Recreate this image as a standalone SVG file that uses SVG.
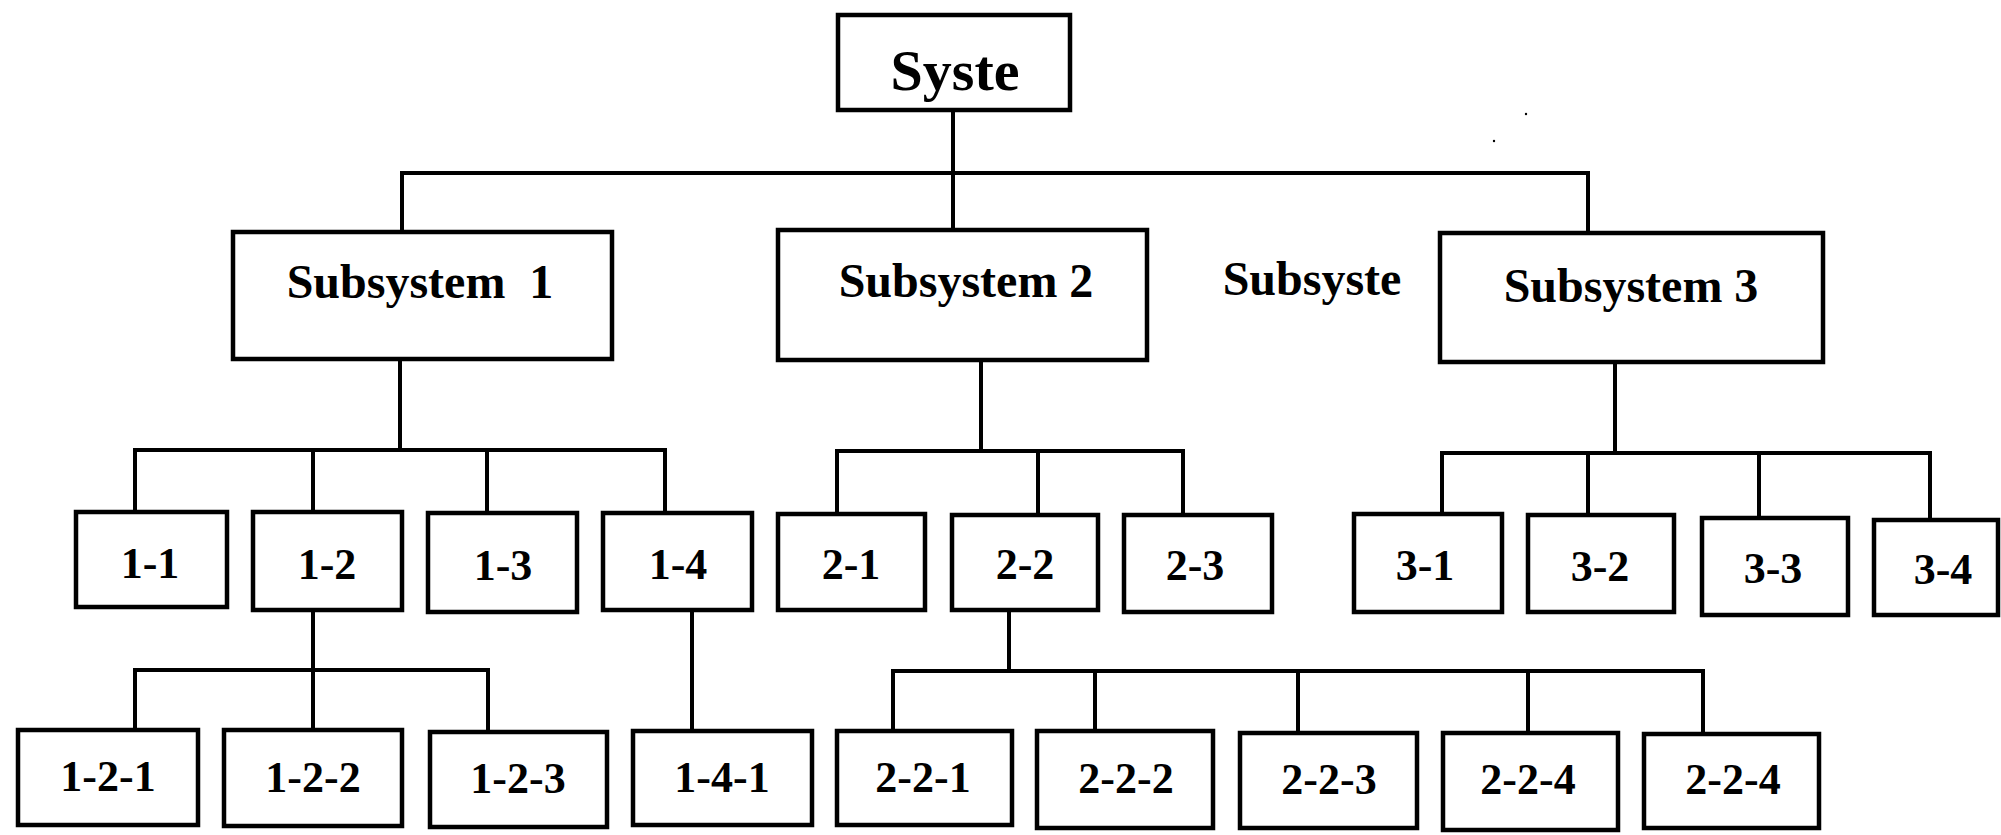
<svg xmlns="http://www.w3.org/2000/svg" width="2001" height="835" viewBox="0 0 2001 835">
<style>
.box{fill:#fff;stroke:#000;stroke-width:4.5}
.lbl{font-family:"Liberation Serif","Times New Roman",serif;font-weight:bold;fill:#000;text-anchor:middle}
.big{font-size:48px}
.top{font-size:58px}
.sm{font-size:44px}
.con{stroke:#000;stroke-width:4;fill:none;stroke-linecap:square}
</style>
<rect width="2001" height="835" fill="#fff"/>
<g id="connectors" class="con">
<path d="M953 110V230"/>
<path d="M402 232V173H1588V233"/>
<path d="M400 359V450"/>
<path d="M135 512V450H665V513"/>
<path d="M313 450V512"/>
<path d="M487 450V513"/>
<path d="M981 360V451"/>
<path d="M837 514V451H1183V515"/>
<path d="M1038 451V515"/>
<path d="M1615 362V453"/>
<path d="M1442 514V453H1930V520"/>
<path d="M1588 453V515"/>
<path d="M1759 453V518"/>
<path d="M313 610V670"/>
<path d="M135 730V670H488V732"/>
<path d="M313 670V730"/>
<path d="M692 610V731"/>
<path d="M1009 610V671"/>
<path d="M893 731V671H1703V734"/>
<path d="M1095 671V731"/>
<path d="M1298 671V733"/>
<path d="M1528 671V733"/>
</g>
<g id="n-syste"><rect class="box" x="838" y="15" width="232" height="95"/><text class="lbl top" x="955" y="90">Syste</text></g>
<g id="n-s1"><rect class="box" x="233" y="232" width="379" height="127"/><text class="lbl big" x="420" y="298" xml:space="preserve">Subsystem  1</text></g>
<g id="n-s2"><rect class="box" x="778" y="230" width="369" height="130"/><text class="lbl big" x="966" y="297">Subsystem 2</text></g>
<g id="t-subsyste"><text class="lbl big" x="1312" y="295">Subsyste</text></g>
<g id="n-s3"><rect class="box" x="1440" y="233" width="383" height="129"/><text class="lbl big" x="1631" y="302">Subsystem 3</text></g>
<g id="n1-1"><rect class="box" x="76" y="512" width="151" height="95"/><text class="lbl sm" x="150" y="578">1-1</text></g>
<g id="n1-2"><rect class="box" x="253" y="512" width="149" height="98"/><text class="lbl sm" x="327" y="579">1-2</text></g>
<g id="n1-3"><rect class="box" x="428" y="513" width="149" height="99"/><text class="lbl sm" x="503" y="580">1-3</text></g>
<g id="n1-4"><rect class="box" x="603" y="513" width="149" height="97"/><text class="lbl sm" x="678" y="579">1-4</text></g>
<g id="n2-1"><rect class="box" x="778" y="514" width="147" height="96"/><text class="lbl sm" x="851" y="579">2-1</text></g>
<g id="n2-2"><rect class="box" x="952" y="515" width="146" height="95"/><text class="lbl sm" x="1025" y="579">2-2</text></g>
<g id="n2-3"><rect class="box" x="1124" y="515" width="148" height="97"/><text class="lbl sm" x="1195" y="580">2-3</text></g>
<g id="n3-1"><rect class="box" x="1354" y="514" width="148" height="98"/><text class="lbl sm" x="1425" y="580">3-1</text></g>
<g id="n3-2"><rect class="box" x="1528" y="515" width="146" height="97"/><text class="lbl sm" x="1600" y="581">3-2</text></g>
<g id="n3-3"><rect class="box" x="1702" y="518" width="146" height="97"/><text class="lbl sm" x="1773" y="583">3-3</text></g>
<g id="n3-4"><rect class="box" x="1874" y="520" width="124" height="95"/><text class="lbl sm" x="1943" y="584">3-4</text></g>
<g id="n1-2-1"><rect class="box" x="18" y="730" width="180" height="95"/><text class="lbl sm" x="108" y="791">1-2-1</text></g>
<g id="n1-2-2"><rect class="box" x="224" y="730" width="178" height="96"/><text class="lbl sm" x="313" y="792">1-2-2</text></g>
<g id="n1-2-3"><rect class="box" x="430" y="732" width="177" height="95"/><text class="lbl sm" x="518" y="793">1-2-3</text></g>
<g id="n1-4-1"><rect class="box" x="633" y="731" width="179" height="94"/><text class="lbl sm" x="722" y="792">1-4-1</text></g>
<g id="n2-2-1"><rect class="box" x="837" y="731" width="175" height="94"/><text class="lbl sm" x="923" y="792">2-2-1</text></g>
<g id="n2-2-2"><rect class="box" x="1037" y="731" width="176" height="97"/><text class="lbl sm" x="1126" y="793">2-2-2</text></g>
<g id="n2-2-3"><rect class="box" x="1240" y="733" width="177" height="95"/><text class="lbl sm" x="1329" y="794">2-2-3</text></g>
<g id="n2-2-4"><rect class="box" x="1443" y="733" width="175" height="97"/><text class="lbl sm" x="1528" y="794">2-2-4</text></g>
<g id="n2-2-4b"><rect class="box" x="1644" y="734" width="175" height="94"/><text class="lbl sm" x="1733" y="794">2-2-4</text></g>
<g id="specks" fill="#000"><circle cx="1494" cy="141" r="1.2"/><circle cx="1526" cy="114" r="1.2"/></g>
</svg>
